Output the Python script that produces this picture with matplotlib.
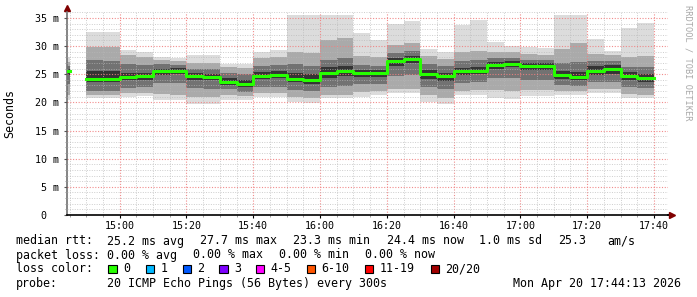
import numpy as np
import matplotlib
matplotlib.use("Agg")
import matplotlib.pyplot as plt
from matplotlib.patches import Rectangle
from matplotlib.ticker import MultipleLocator, FixedLocator, FixedFormatter

plt.rcParams['font.family'] = 'DejaVu Sans Mono'

# 5-minute slots (start time of each slot), values in ms
slot_start = ["14:40", "14:45", "14:50", "14:55", "15:00", "15:05", "15:10", "15:15",
              "15:20", "15:25", "15:30", "15:35", "15:40", "15:45", "15:50", "15:55",
              "16:00", "16:05", "16:10", "16:15", "16:20", "16:25", "16:30", "16:35",
              "16:40", "16:45", "16:50", "16:55", "17:00", "17:05", "17:10", "17:15",
              "17:20", "17:25", "17:30", "17:35"]
nan = np.nan
median = [25.5, nan, 24.2, 24.2, 24.5, 24.6, 25.5, 25.6, 24.7, 24.5, 23.6, 23.2,
          24.7, 24.9, 24.2, 24.0, 25.3, 25.5, 25.2, 25.2, 27.3, 27.7, 25.0, 24.6,
          25.5, 25.6, 26.7, 26.9, 26.5, 26.5, 24.8, 24.5, 25.6, 25.9, 24.6, 24.3]
ping_max = [28.1, nan, 32.5, 32.5, 29.3, 28.9, 28.1, 27.8, 28.4, 28.4, 26.9, 26.8,
            29.0, 29.3, 35.6, 35.6, 35.6, 35.6, 32.4, 31.1, 33.9, 34.5, 29.5, 28.9,
            33.8, 34.6, 30.7, 30.0, 29.9, 29.6, 35.6, 35.6, 31.2, 29.1, 33.3, 34.1]
p90 = [27.2, nan, 29.9, 29.8, 28.5, 28.1, 27.6, 27.3, 27.0, 27.0, 26.3, 26.1,
       27.8, 28.0, 29.0, 28.7, 31.0, 31.5, 28.3, 28.0, 30.2, 30.6, 28.2, 27.7,
       28.9, 29.2, 29.0, 28.9, 28.6, 28.5, 29.5, 30.5, 28.6, 28.4, 28.0, 28.3]
p75 = [26.5, nan, 27.5, 27.4, 26.8, 26.6, 26.8, 26.7, 26.0, 25.9, 25.2, 25.0,
       26.4, 26.6, 26.8, 26.5, 27.5, 27.8, 26.6, 26.5, 28.8, 29.1, 26.9, 26.4,
       27.4, 27.6, 27.9, 27.9, 27.6, 27.5, 27.0, 27.2, 27.4, 27.4, 26.3, 26.2]
p60 = [26.0, nan, 25.6, 25.5, 25.3, 25.3, 26.0, 26.1, 25.3, 25.1, 24.3, 24.0,
       25.4, 25.6, 25.2, 25.0, 26.2, 26.4, 25.8, 25.8, 27.9, 28.3, 25.7, 25.2,
       26.1, 26.2, 27.2, 27.3, 27.0, 27.0, 25.6, 25.4, 26.5, 26.6, 25.4, 25.1]
p40 = [24.8, nan, 23.6, 23.6, 23.9, 24.0, 24.9, 25.0, 24.0, 23.9, 23.0, 22.7,
       24.1, 24.3, 23.6, 23.3, 24.4, 24.6, 24.5, 24.5, 26.5, 27.0, 24.2, 23.8,
       24.9, 25.0, 26.0, 26.2, 25.8, 25.8, 24.1, 23.9, 24.8, 25.1, 23.9, 23.6]
p25 = [23.2, nan, 22.0, 22.0, 22.6, 22.7, 23.5, 23.4, 22.5, 22.4, 22.4, 21.9,
       22.7, 22.8, 22.2, 22.0, 22.8, 22.9, 23.2, 23.3, 24.6, 24.9, 22.8, 22.3,
       23.5, 23.6, 24.3, 24.4, 24.0, 24.0, 23.0, 22.9, 23.6, 23.7, 22.7, 22.5]
p10 = [21.3, nan, 21.4, 21.4, 21.7, 21.7, 21.5, 21.4, 21.0, 20.9, 21.3, 21.1,
       21.7, 21.7, 21.0, 20.8, 21.3, 21.3, 21.8, 22.0, 22.3, 22.4, 21.3, 20.8,
       22.1, 22.2, 22.2, 22.0, 22.2, 22.2, 22.0, 22.0, 22.3, 22.4, 21.5, 21.4]
ping_min = [20.4, nan, 20.7, 20.8, 21.0, 21.1, 20.5, 20.5, 19.8, 19.8, 20.5, 20.5,
            21.0, 21.0, 20.1, 19.9, 20.7, 20.7, 21.0, 21.4, 21.7, 21.7, 20.1, 19.7,
            21.4, 21.4, 20.8, 20.6, 21.1, 21.1, 21.4, 21.4, 21.6, 21.6, 20.7, 20.7]

x_labels = ["15:00", "15:20", "15:40", "16:00", "16:20", "16:40", "17:00", "17:20", "17:40"]
y_ticks = [0, 5, 10, 15, 20, 25, 30, 35]
y_labels = ["0  ", "5 m", "10 m", "15 m", "20 m", "25 m", "30 m", "35 m"]

loss_labels = ["0", "1", "2", "3", "4-5", "6-10", "11-19", "20/20"]
loss_colors = ["#26ff00", "#00b8ff", "#0059ff", "#7e00ff", "#ff00ff", "#ff5500", "#ff0000", "#a10000"]


def to_min(s):
    parts = [int(p) for p in s.split(":")]
    return parts[0] * 60 + parts[1] + (parts[2] / 60 if len(parts) > 2 else 0)


W, H = 697, 297
fig = plt.figure(figsize=(W / 100, H / 100), dpi=100)
fig.patch.set_facecolor("white")

# plot area in pixels: x 67..668, y 215 (0 ms) .. 12.3 (36 ms)
ax = fig.add_axes([67 / W, 82 / H, 601 / W, 202.7 / H])

x = np.array([to_min(s) for s in slot_start])
step = 5

# smoke: outer bands light, inner bands dark
bands = [(ping_min, ping_max, "#dcdcdc"),
         (p10, p90, "#aaaaaa"),
         (p25, p75, "#727272"),
         (p40, p60, "#343434")]
for low, high, col in bands:
    low = np.array(low)
    high = np.array(high)
    ax.bar(x, high - low, bottom=low, width=step, align="edge",
           color=col, linewidth=0, zorder=1)

# median line
xe = np.append(x, x[-1] + step)
me = np.append(median, median[-1])
ax.step(xe, me, where="post", color="#26ff00", lw=2.2, zorder=4)

ax.set_xlim(to_min("14:44:13"), to_min("17:44:13"))
ax.set_ylim(0, 36)

# grid (drawn over the smoke like rrdtool)
ax.xaxis.set_major_locator(FixedLocator([to_min(s) for s in x_labels]))
ax.xaxis.set_major_formatter(FixedFormatter(x_labels))
ax.xaxis.set_minor_locator(MultipleLocator(5))
ax.yaxis.set_major_locator(FixedLocator(y_ticks))
ax.yaxis.set_major_formatter(FixedFormatter(y_labels))
ax.yaxis.set_minor_locator(MultipleLocator(1))
ax.set_axisbelow(False)
ax.grid(which="minor", color="#b8b8b8", lw=0.7, ls=(0, (1, 1.5)), alpha=0.7)
ax.grid(which="major", color="#f08080", lw=0.8, ls=(0, (1, 1.5)), alpha=0.9)

for sp in ["top", "right"]:
    ax.spines[sp].set_visible(False)
ax.spines["left"].set_color("#707070")
ax.spines["left"].set_linewidth(1.2)
ax.spines["bottom"].set_color("black")
ax.spines["bottom"].set_linewidth(1.2)
ax.spines["bottom"].set_zorder(5)

ax.tick_params(axis="both", which="major", labelsize=7.2, colors="black",
               length=2.5, width=0.8)
ax.tick_params(axis="both", which="minor", length=1.5, width=0.6, color="#909090")
ax.tick_params(axis="x", which="major", pad=1.5)
ax.tick_params(axis="y", which="major", pad=3.5, color="#555555")

# axis extensions and arrows
ax.plot([1.0, 1.0 + 4 / 601], [0, 0], color="black", lw=1.2,
        transform=ax.transAxes, clip_on=False)
ax.plot([1.0 + 4 / 601], [0], marker=">", ms=4, color="#800000", mec="#800000",
        transform=ax.transAxes, clip_on=False)
ax.plot([0, 0], [1.0, 1.0 + 4 / 202.7], color="#707070", lw=1.2,
        transform=ax.transAxes, clip_on=False)
ax.plot([0], [1.0 + 4 / 202.7], marker="^", ms=4, color="#800000", mec="#800000",
        transform=ax.transAxes, clip_on=False)

fig.text(10 / W, 1 - 114 / H, "Seconds", rotation=90, ha="center", va="center",
         fontsize=8.4)
fig.text(688 / W, 1 - 5 / H, "RRDTOOL / TOBI OETIKER", rotation=270, ha="center",
         va="top", fontsize=6.2, color="#a8a8a8")

# legend block
fs = 8.4


def ftext(px, py, s, **kw):
    fig.text(px / W, 1 - py / H, s, va="center", ha="left", fontsize=fs, **kw)


ftext(16, 241, "median rtt:")
rtt_items = [(107, "25.2 ms avg"), (200, "27.7 ms max"), (293, "23.3 ms min"),
             (386.5, "24.4 ms now"), (479, "1.0 ms sd"), (558, "25.3"), (607, "am/s")]
for px, s in rtt_items:
    ftext(px, 241, s)

ftext(16, 255, "packet loss:")
loss_items = [(107, "0.00 % avg"), (193, "0.00 % max"), (279, "0.00 % min"),
              (365, "0.00 % now")]
for px, s in loss_items:
    ftext(px, 255, s)

ftext(16, 269, "loss color:")
box_x = [108.3, 145.7, 182.7, 219.3, 256, 306.7, 365, 430.7]
for bx, lab, col in zip(box_x, loss_labels, loss_colors):
    fig.patches.append(Rectangle((bx / W, 1 - 273.3 / H), 8.3 / W, 8.3 / H,
                                 transform=fig.transFigure, facecolor=col,
                                 edgecolor="black", lw=0.8))
    ftext(bx + 14.7, 269, lab)

ftext(16, 283, "probe:")
ftext(107, 283, "20 ICMP Echo Pings (56 Bytes) every 300s")
ftext(513, 283, "Mon Apr 20 17:44:13 2026")

fig.savefig("out.png", dpi=100)
